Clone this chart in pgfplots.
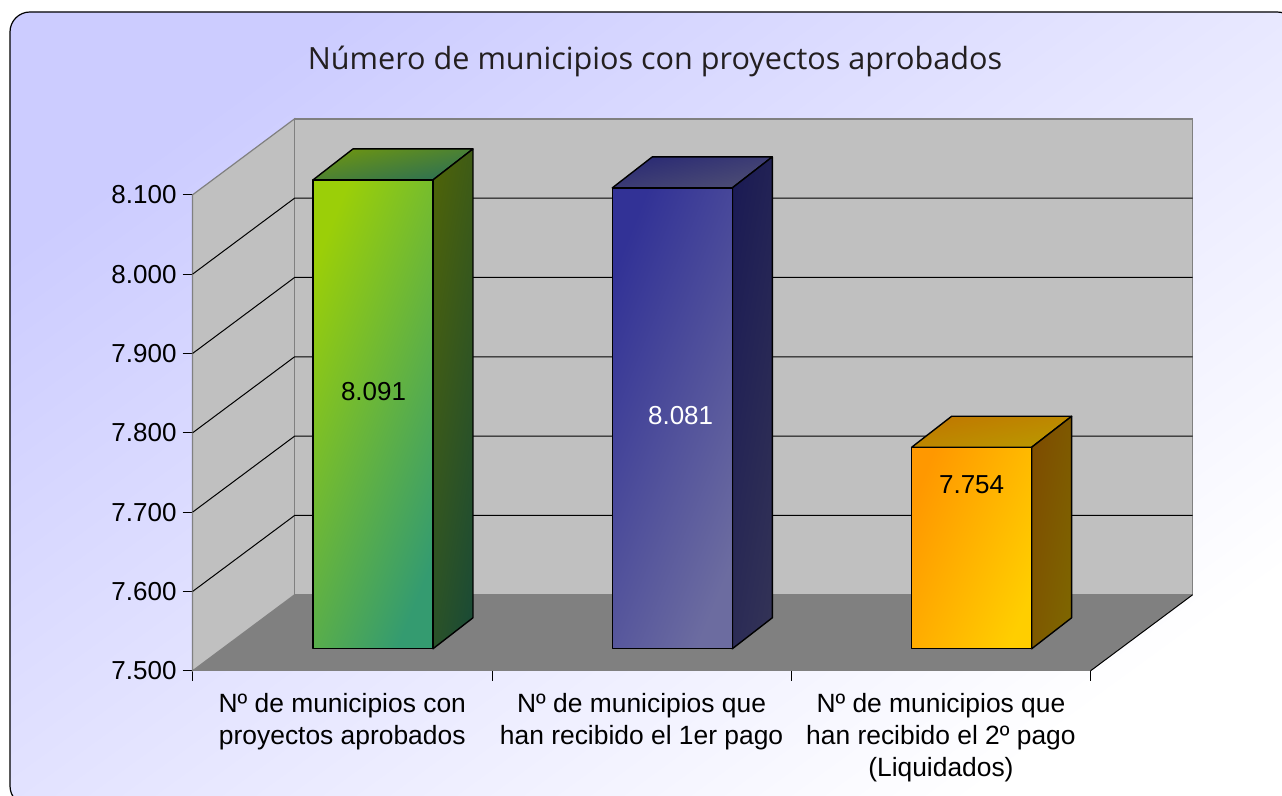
\documentclass[border=0pt]{standalone}
\usepackage{pgfplots}
\pgfplotsset{compat=1.18}
\usepackage{fontspec}
\setmainfont{Liberation Sans}
\newfontfamily\titlefont{Open Sans}
\definecolor{gA1}{RGB}{155,207,8}\definecolor{gA2}{RGB}{52,155,112}
\definecolor{gS1}{RGB}{76,98,10}\definecolor{gS2}{RGB}{28,75,52}
\definecolor{gT1}{RGB}{108,148,18}\definecolor{gT2}{RGB}{44,112,84}
\definecolor{bA1}{RGB}{50,50,150}\definecolor{bA2}{RGB}{108,108,160}
\definecolor{bS1}{RGB}{27,27,84}\definecolor{bS2}{RGB}{50,50,86}
\definecolor{bT1}{RGB}{42,42,116}\definecolor{bT2}{RGB}{78,78,116}
\definecolor{oA1}{RGB}{255,152,0}\definecolor{oA2}{RGB}{255,206,0}
\definecolor{oS1}{RGB}{126,76,0}\definecolor{oS2}{RGB}{126,102,0}
\definecolor{oT1}{RGB}{192,120,0}\definecolor{oT2}{RGB}{186,152,0}
% horizontal unit: 299.33 px per category; vertical: 0.7933 px per municipio
\newcommand{\threebar}[3]{%
  \pgfmathsetmacro{\xa}{#1-60/299.33+30.7/299.33}%
  \pgfmathsetmacro{\xb}{#1+60/299.33+30.7/299.33}%
  \pgfmathsetmacro{\xc}{\xa+40/299.33}%
  \pgfmathsetmacro{\xd}{\xb+40/299.33}%
  \pgfmathsetmacro{\ya}{7500+22/0.7933}%
  \pgfmathsetmacro{\yb}{#2+22/0.7933}%
  \pgfmathsetmacro{\yc}{\ya+31/0.7933}%
  \pgfmathsetmacro{\yd}{\yb+31/0.7933}%
  \addplot[draw=black,line width=0.7pt,line join=round,top color=#3T1,bottom color=#3T2,shading angle=12]
    coordinates {(\xa,\yb)(\xc,\yd)(\xd,\yd)(\xb,\yb)} -- cycle;
  \addplot[draw=black,line width=0.7pt,line join=round,top color=#3S1,bottom color=#3S2,shading angle=80]
    coordinates {(\xb,\ya)(\xd,\yc)(\xd,\yd)(\xb,\yb)} -- cycle;
  \addplot[draw=black,line width=0.7pt,line join=round,top color=#3A1,bottom color=#3A2,shading angle=68]
    coordinates {(\xa,\ya)(\xb,\ya)(\xb,\yb)(\xa,\yb)} -- cycle;
}
\begin{document}
\begin{tikzpicture}[x=0.5pt,y=0.5pt]
\useasboundingbox (0,0) rectangle (1282,796);
\clip (0,0) rectangle (1282,796);
\fill[white] (0,0) rectangle (1282,796);
\draw[black,line width=0.6pt,rounded corners=10pt,top color={rgb,255:red,204;green,204;blue,255},middle color={rgb,255:red,234;green,234;blue,255},bottom color=white,shading angle=36]
  (10,-10) rectangle (1297,784);
\node[font=\titlefont\fontsize{15.3}{18}\selectfont,text={rgb,255:red,35;green,31;blue,32},anchor=center] at (655,735) {Número de municipios con proyectos aprobados};
\begin{axis}[
  at={(96.3pt,62.6pt)},anchor=south west,
  scale only axis,width=449pt,height=238pt,
  xmin=0,xmax=3,ymin=7500,ymax=8100,
  clip=false,
  axis x line=bottom,axis y line=left,
  axis line style={-,black,line width=0.5pt},
  tick align=outside,
  ytick={7500,7600,7700,7800,7900,8000,8100},
  yticklabel style={font=\fontsize{13}{15}\selectfont,xshift=0.5pt},
  /pgf/number format/.cd,1000 sep={.},assume math mode=true,
  /pgfplots/.cd,
  xtick={0.5,1.5,2.5},
  xticklabels={Nº de municipios con\\proyectos aprobados,Nº de municipios que\\han recibido el 1er pago,Nº de municipios que\\han recibido el 2º pago\\(Liquidados)},
  xticklabel style={font=\fontsize{13.2}{15.8}\selectfont,align=center,anchor=north,yshift=-3pt},
  minor xtick={0,1,2,3},
  major x tick style={draw=none},
  major tick length=5pt,minor tick length=5pt,
  every tick/.style={black,line width=0.4pt},
  axis on top=false,
]
% floor
\addplot[draw=none,fill={rgb,255:red,128;green,128;blue,128}] coordinates {(0,7500)(3,7500)(3.3408,7595.8)(0.3408,7595.8)} -- cycle;
% left wall
\addplot[draw={rgb,255:red,128;green,128;blue,128},line width=0.6pt,fill={rgb,255:red,192;green,192;blue,192}] coordinates {(0,7500)(0.3408,7595.8)(0.3408,8195.8)(0,8100)} -- cycle;
% back wall
\addplot[draw={rgb,255:red,128;green,128;blue,128},line width=0.7pt,fill={rgb,255:red,192;green,192;blue,192}] coordinates {(0.3408,7595.8)(3.3408,7595.8)(3.3408,8195.8)(0.3408,8195.8)} -- cycle;
% grid lines
\pgfplotsinvokeforeach{7600,7700,7800,7900,8000}{
  \addplot[black,line width=0.5pt] coordinates {(0,#1)(0.3408,#1+95.8)(3.3408,#1+95.8)};
}
\addplot[black,line width=0.5pt] coordinates {(3,7500)(3.3408,7595.8)};
\threebar{0.5}{8091}{g}
\threebar{1.5}{8081}{b}
\threebar{2.5}{7754}{o}
\node[font=\fontsize{13}{15}\selectfont,black] at (axis cs:0.6046,7851.7) {8.091};
\node[font=\fontsize{13}{15}\selectfont,white] at (axis cs:1.6303,7821.4) {8.081};
\node[font=\fontsize{13}{15}\selectfont,black] at (axis cs:2.6025,7734.4) {7.754};
\end{axis}
\end{tikzpicture}
\end{document}
